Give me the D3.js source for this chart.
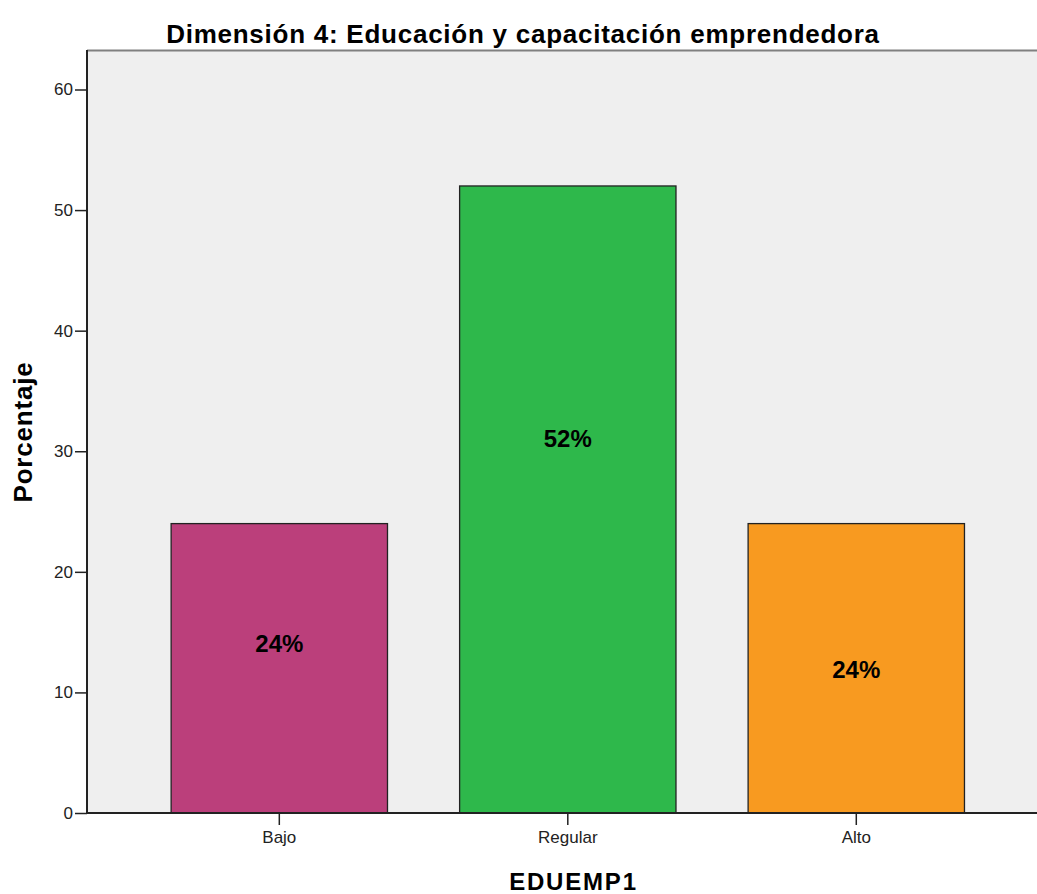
<!DOCTYPE html>
<html>
<head>
<meta charset="utf-8">
<script src="https://cdn.jsdelivr.net/npm/d3@7"></script>
<style>
  body { margin: 0; background: #fff; }
  svg { display: block; font-family: "Liberation Sans", Arial, sans-serif; }
</style>
</head>
<body>
<svg></svg>
<script>
// data
var categories = ["Bajo", "Regular", "Alto"];
var percentages = [24, 52, 24];
var barLabels = ["24%", "52%", "24%"];
var labelAt = [14.1, 31.1, 11.9];    // where SPSS put the labels (in percent units)
var yTicks = [0, 10, 20, 30, 40, 50, 60];
var barColors = ["#bb3f7b", "#2eb84b", "#f89a20"];

var width = 1037, height = 894;
var margin = {top: 50, right: 0, bottom: 81, left: 87};

var svg = d3.select("svg")
   .attr("width", width)
   .attr("height", height);

var x = d3.scaleBand()
   .domain(categories)
   .range([99, 1036.6])
   .paddingInner(0.25)
   .paddingOuter(0.25);

var y = d3.scaleLinear()
   .domain([0, 60])
   .range([height - margin.bottom, 89.5]);

// plot background
svg.append("rect")
   .attr("x", margin.left)
   .attr("y", margin.top)
   .attr("width", width - margin.left)
   .attr("height", y(0) - margin.top)
   .attr("fill", "#efefef");

svg.append("line")
   .attr("x1", margin.left).attr("x2", width)
   .attr("y1", margin.top + 0.5).attr("y2", margin.top + 0.5)
   .attr("stroke", "#808080")
   .attr("stroke-width", 2);

// bars
svg.selectAll(".bar")
   .data(percentages)
   .enter()
   .append("rect")
   .attr("class", "bar")
   .attr("x", function(d, i){ return x(categories[i]); })
   .attr("y", function(d){ return y(d); })
   .attr("width", x.bandwidth())
   .attr("height", function(d){ return y(0) - y(d); })
   .attr("fill", function(d, i){ return barColors[i]; })
   .attr("stroke", "#222")
   .attr("stroke-width", 1.3);

svg.selectAll(".blabel")
   .data(barLabels)
   .enter()
   .append("text")
   .attr("class", "blabel")
   .attr("x", function(d, i){ return x(categories[i]) + x.bandwidth() / 2; })
   .attr("y", function(d, i){ return y(labelAt[i]); })
   .attr("dy", "0.36em")
   .attr("text-anchor", "middle")
   .attr("font-size", 24)
   .attr("font-weight", "bold")
   .attr("fill", "#000")
   .text(function(d){ return d; });

// axes
var yAxis = svg.append("g")
   .attr("transform", "translate(" + margin.left + ",0)")
   .call(d3.axisLeft(y).tickValues(yTicks).tickSize(12).tickPadding(2));

var xAxis = svg.append("g")
   .attr("transform", "translate(0," + y(0) + ")")
   .call(d3.axisBottom(x).tickSize(12).tickPadding(6));

[yAxis, xAxis].forEach(function(a){
   a.select(".domain").attr("stroke", "#222").attr("stroke-width", 2);
   a.selectAll(".tick line").attr("stroke", "#222").attr("stroke-width", 1.5);
   a.selectAll(".tick text").attr("fill", "#222").attr("font-size", 17)
      .attr("font-family", "'Liberation Sans', Arial, sans-serif");
});
xAxis.select(".domain").attr("d", "M" + margin.left + ",0H" + width);
yAxis.select(".domain").attr("d", "M0," + y(0) + "V" + margin.top);

// titles
svg.append("text")
   .attr("x", 523)
   .attr("y", 43)
   .attr("text-anchor", "middle")
   .attr("font-size", 26)
   .attr("font-weight", "bold")
   .attr("letter-spacing", 0.75)
   .text("Dimensión 4: Educación y capacitación emprendedora");

svg.append("text")
   .attr("transform", "translate(32,432) rotate(-90)")
   .attr("text-anchor", "middle")
   .attr("font-size", 26)
   .attr("font-weight", "bold")
   .attr("letter-spacing", 0.8)
   .text("Porcentaje");

svg.append("text")
   .attr("x", 573.5)
   .attr("y", 890)
   .attr("text-anchor", "middle")
   .attr("font-size", 24)
   .attr("font-weight", "bold")
   .attr("letter-spacing", 1.8)
   .text("EDUEMP1");
</script>
</body>
</html>
